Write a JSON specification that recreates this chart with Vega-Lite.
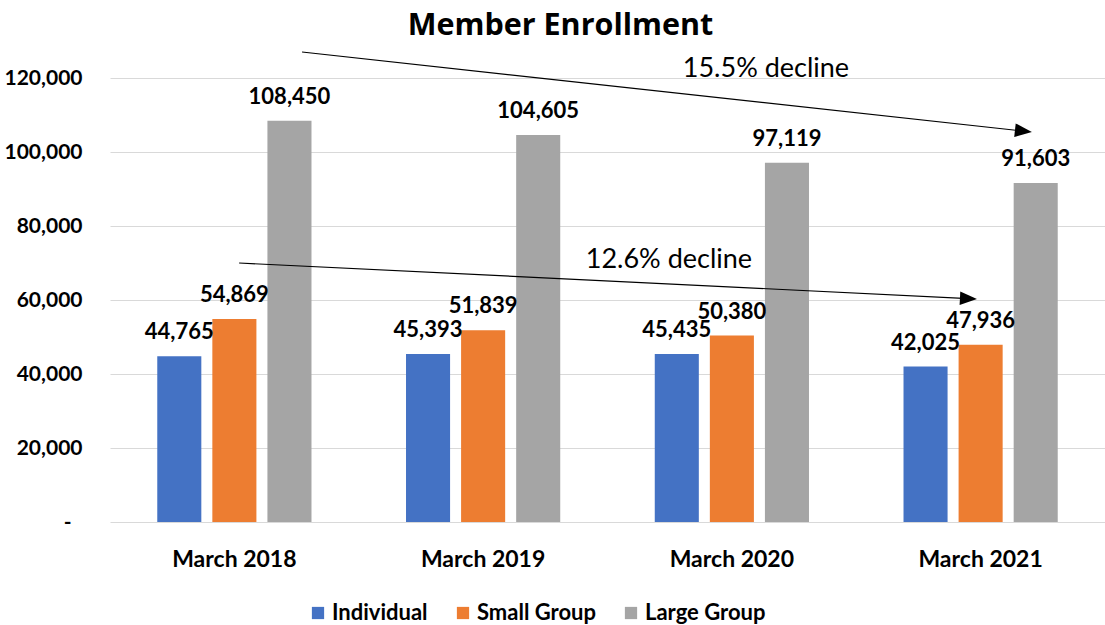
{
  "$schema": "https://vega.github.io/schema/vega-lite/v6.json",
  "autosize": {"type": "none"},
  "padding": {"left": 110, "top": 78, "right": 0, "bottom": 103},
  "width": 995,
  "height": 444,
  "background": "white",
  "title": {
    "text": "Member Enrollment",
    "font": "Open Sans",
    "fontSize": 30.5,
    "fontWeight": "bold",
    "color": "#000000",
    "anchor": "middle",
    "frame": "group",
    "dx": -47,
    "offset": 8
  },
  "config": {
    "view": {"stroke": null},
    "font": "Lato"
  },
  "datasets": {
    "enrollment": [
      {"period": "March 2018", "group": "Individual", "value": 44765},
      {"period": "March 2018", "group": "Small Group", "value": 54869},
      {"period": "March 2018", "group": "Large Group", "value": 108450},
      {"period": "March 2019", "group": "Individual", "value": 45393},
      {"period": "March 2019", "group": "Small Group", "value": 51839},
      {"period": "March 2019", "group": "Large Group", "value": 104605},
      {"period": "March 2020", "group": "Individual", "value": 45435},
      {"period": "March 2020", "group": "Small Group", "value": 50380},
      {"period": "March 2020", "group": "Large Group", "value": 97119},
      {"period": "March 2021", "group": "Individual", "value": 42025},
      {"period": "March 2021", "group": "Small Group", "value": 47936},
      {"period": "March 2021", "group": "Large Group", "value": 91603}
    ],
    "arrows": [
      {"arrow": "large", "pos": 0.772, "value": 127027},
      {"arrow": "large", "pos": 3.672, "value": 105650},
      {"arrow": "small", "pos": 0.519, "value": 70000},
      {"arrow": "small", "pos": 3.451, "value": 60378}
    ],
    "notes": [
      {"label": "15.5% decline", "pos": 2.637, "value": 120270},
      {"label": "12.6% decline", "pos": 2.247, "value": 68650}
    ]
  },
  "layer": [
    {
      "data": {"name": "enrollment"},
      "encoding": {
        "x": {
          "field": "period",
          "type": "nominal",
          "scale": {"paddingInner": 0.38, "paddingOuter": 0.19},
          "axis": {
            "title": null,
            "labelAngle": 0,
            "labelFont": "Lato",
            "labelFontSize": 23,
            "labelFontWeight": "bold",
            "labelColor": "#000000",
            "labelPadding": 26,
            "ticks": false,
            "domain": false
          }
        },
        "xOffset": {
          "field": "group",
          "type": "nominal",
          "sort": ["Individual", "Small Group", "Large Group"],
          "scale": {"paddingInner": 0.2, "paddingOuter": 0}
        },
        "y": {
          "field": "value",
          "type": "quantitative",
          "scale": {"domain": [0, 120000], "nice": false},
          "axis": {
            "title": null,
            "values": [0, 20000, 40000, 60000, 80000, 100000, 120000],
            "labelExpr": "datum.value == 0 ? '-' : format(datum.value, ',')",
            "labelFont": "Lato",
            "labelFontSize": 21,
            "labelFontWeight": "bold",
            "labelColor": "#000000",
            "labelPadding": {"condition": {"test": "datum.value == 0", "value": 39}, "value": 28},
            "ticks": false,
            "domain": false,
            "grid": true,
            "gridColor": "#D9D9D9",
            "gridWidth": 1
          }
        }
      },
      "layer": [
        {
          "mark": {"type": "bar"},
          "encoding": {
            "color": {
              "field": "group",
              "type": "nominal",
              "sort": ["Individual", "Small Group", "Large Group"],
              "scale": {"domain": ["Individual", "Small Group", "Large Group"], "range": ["#4472C4", "#ED7D31", "#A5A5A5"]},
              "legend": {
                "title": null,
                "orient": "none",
                "direction": "horizontal",
                "legendX": 197,
                "legendY": 524,
                "padding": 0,
                "symbolType": "square",
                "symbolSize": 150,
                "symbolStrokeWidth": 0,
                "labelFont": "Lato",
                "labelFontSize": 22,
                "labelFontWeight": "bold",
                "labelColor": "#000000",
                "labelOffset": 3,
                "columnPadding": 24
              }
            }
          }
        },
        {
          "mark": {"type": "text", "baseline": "alphabetic", "dy": -17, "font": "Lato", "fontSize": 22, "fontWeight": "bold", "color": "#000000"},
          "encoding": {
            "text": {"field": "value", "type": "quantitative", "format": ","}
          }
        }
      ]
    },
    {
      "layer": [
        {
          "data": {"name": "arrows"},
          "mark": {"type": "line", "color": "#000000", "strokeWidth": 1.2},
          "encoding": {
            "x": {"field": "pos", "type": "quantitative", "scale": {"domain": [0, 4], "nice": false, "zero": false}, "axis": null},
            "y": {"field": "value", "type": "quantitative", "scale": {"domain": [0, 120000], "nice": false}},
            "detail": {"field": "arrow", "type": "nominal"}
          }
        },
        {
          "data": {"name": "arrows"},
          "transform": [{"filter": "datum.arrow == 'large' && datum.pos > 2"}],
          "mark": {"type": "point", "shape": "M-1,-0.8L1,0L-1,0.8Z", "filled": true, "color": "#000000", "opacity": 1, "size": 289, "angle": 6.25},
          "encoding": {
            "x": {"field": "pos", "type": "quantitative", "scale": {"domain": [0, 4], "nice": false, "zero": false}, "axis": null},
            "y": {"field": "value", "type": "quantitative", "scale": {"domain": [0, 120000], "nice": false}}
          }
        },
        {
          "data": {"name": "arrows"},
          "transform": [{"filter": "datum.arrow == 'small' && datum.pos > 2"}],
          "mark": {"type": "point", "shape": "M-1,-0.8L1,0L-1,0.8Z", "filled": true, "color": "#000000", "opacity": 1, "size": 289, "angle": 2.79},
          "encoding": {
            "x": {"field": "pos", "type": "quantitative", "scale": {"domain": [0, 4], "nice": false, "zero": false}, "axis": null},
            "y": {"field": "value", "type": "quantitative", "scale": {"domain": [0, 120000], "nice": false}}
          }
        },
        {
          "data": {"name": "notes"},
          "mark": {"type": "text", "align": "center", "baseline": "alphabetic", "font": "Lato", "fontSize": 27, "color": "#000000"},
          "encoding": {
            "x": {"field": "pos", "type": "quantitative", "scale": {"domain": [0, 4], "nice": false, "zero": false}, "axis": null},
            "y": {"field": "value", "type": "quantitative", "scale": {"domain": [0, 120000], "nice": false}},
            "text": {"field": "label", "type": "nominal"}
          }
        }
      ]
    }
  ],
  "resolve": {"scale": {"x": "independent"}}
}
